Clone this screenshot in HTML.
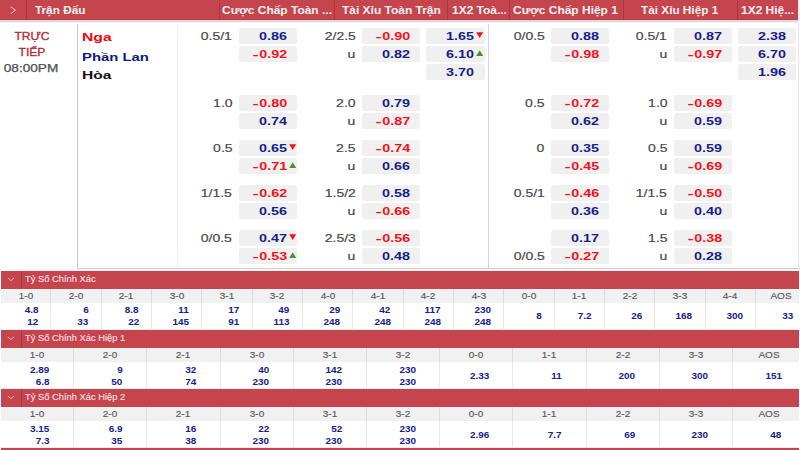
<!DOCTYPE html>
<html><head><meta charset="utf-8"><title>odds</title>
<style>
html,body{margin:0;padding:0;background:#fff;}
body{width:800px;height:450px;overflow:hidden;position:relative;font-family:"Liberation Sans",sans-serif;}
#p{position:absolute;left:0;top:0;width:800px;height:450px;overflow:hidden;background:#fff;}
#p div,#p svg,#p .t{position:absolute;}
.t{white-space:nowrap;line-height:1;}
.m{display:inline-block;font-style:normal;transform:scaleX(1.3);transform-origin:100% 50%;margin-left:1.2px;margin-right:0.2px;}
</style></head><body><div id="p">
<div style="left:0.00px;top:0.00px;width:800.00px;height:19.80px;background:#c4454d;"></div>
<div style="left:0.00px;top:18.80px;width:800.00px;height:1.00px;background:#b9404a;"></div>
<div style="left:0.00px;top:19.80px;width:800.00px;height:3.40px;background:linear-gradient(#d6d6d6,#dedede 55%,#fff);"></div>
<div style="left:25.70px;top:0.00px;width:1.00px;height:19.50px;background:#a93840;"></div>
<div style="left:219.40px;top:0.00px;width:1.00px;height:19.50px;background:#a93840;"></div>
<div style="left:333.80px;top:0.00px;width:1.00px;height:19.50px;background:#a93840;"></div>
<div style="left:447.10px;top:0.00px;width:1.00px;height:19.50px;background:#a93840;"></div>
<div style="left:509.10px;top:0.00px;width:1.00px;height:19.50px;background:#a93840;"></div>
<div style="left:623.10px;top:0.00px;width:1.00px;height:19.50px;background:#a93840;"></div>
<div style="left:736.50px;top:0.00px;width:1.00px;height:19.50px;background:#a93840;"></div>
<svg style="left:9px;top:5px" width="9" height="10" viewBox="0 0 9 10"><path d="M1.8 1.8 L6.4 5.2 L1.8 8.6" fill="none" stroke="#f3c9cc" stroke-width="1"/></svg>
<span class="t" style="top:4.81px;font-size:10.5px;font-weight:bold;color:#fdf1f2;left:35.00px;transform-origin:0 50%;transform:scaleX(1.121);">Trận Đấu</span>
<span class="t" style="top:4.81px;font-size:10.5px;font-weight:bold;color:#fdf1f2;left:221.50px;transform-origin:0 50%;transform:scaleX(1.139);">Cược Chấp Toàn ...</span>
<span class="t" style="top:4.81px;font-size:10.5px;font-weight:bold;color:#fdf1f2;left:342.40px;transform-origin:0 50%;transform:scaleX(1.139);">Tài Xỉu Toàn Trận</span>
<span class="t" style="top:4.81px;font-size:10.5px;font-weight:bold;color:#fdf1f2;left:451.60px;transform-origin:0 50%;transform:scaleX(1.139);">1X2 Toà...</span>
<span class="t" style="top:4.81px;font-size:10.5px;font-weight:bold;color:#fdf1f2;left:513.00px;transform-origin:0 50%;transform:scaleX(1.139);">Cược Chấp Hiệp 1</span>
<span class="t" style="top:4.81px;font-size:10.5px;font-weight:bold;color:#fdf1f2;left:640.60px;transform-origin:0 50%;transform:scaleX(1.121);">Tài Xỉu Hiệp 1</span>
<span class="t" style="top:4.81px;font-size:10.5px;font-weight:bold;color:#fdf1f2;left:740.70px;transform-origin:0 50%;transform:scaleX(1.139);">1X2 Hiệ...</span>
<div style="left:77.00px;top:23.50px;width:1.00px;height:245.00px;background:#c9c9c9;"></div>
<div style="left:177.00px;top:26.00px;width:1.00px;height:242.00px;background:#f0f0f0;"></div>
<div style="left:487.90px;top:23.50px;width:1.00px;height:245.00px;background:#d4d4d4;"></div>
<div style="left:77.00px;top:267.80px;width:723.00px;height:1.00px;background:#d0d0d0;"></div>
<div style="left:0.00px;top:269.00px;width:800.00px;height:1.60px;background:#f7f7f7;"></div>
<div style="left:797.90px;top:23.00px;width:1.00px;height:246.00px;background:#e4e4e4;"></div>
<div style="left:798.40px;top:0.00px;width:1.60px;height:23.00px;background:#fbeff0;"></div>
<span class="t" style="top:30.93px;font-size:10.6px;font-weight:normal;color:#b02a34;-webkit-text-stroke:0.3px #b02a34;left:31.60px;transform-origin:0 50%;transform:scaleX(1.14) translateX(-50%);">TRỰC</span>
<span class="t" style="top:46.73px;font-size:10.6px;font-weight:normal;color:#b02a34;-webkit-text-stroke:0.3px #b02a34;left:32.00px;transform-origin:0 50%;transform:scaleX(1.14) translateX(-50%);">TIẾP</span>
<span class="t" style="top:64.40px;font-size:10.4px;font-weight:normal;color:#505050;-webkit-text-stroke:0.25px #505050;left:31.30px;transform-origin:0 50%;transform:scaleX(1.31) translateX(-50%);">08:00PM</span>
<span class="t" style="top:31.00px;font-size:11.7px;font-weight:bold;color:#f8000a;left:81.80px;transform-origin:0 50%;transform:scaleX(1.34);">Nga</span>
<span class="t" style="top:50.50px;font-size:11.7px;font-weight:bold;color:#0e1a86;left:81.80px;transform-origin:0 50%;transform:scaleX(1.27);">Phần Lan</span>
<span class="t" style="top:69.10px;font-size:11.7px;font-weight:bold;color:#111;left:81.80px;transform-origin:0 50%;transform:scaleX(1.33);">Hòa</span>
<div style="left:239.00px;top:28.00px;width:58.30px;height:15.50px;background:#f0f0f0;border-radius:2.5px;"></div>
<span class="t" style="top:31.13px;font-size:11.3px;font-weight:bold;color:#141e8c;right:513.30px;transform-origin:100% 50%;transform:scaleX(1.27);">0.86</span>
<span class="t" style="top:31.12px;font-size:11.2px;font-weight:normal;color:#4a4a4a;-webkit-text-stroke:0.2px #4a4a4a;right:567.80px;transform-origin:100% 50%;transform:scaleX(1.25);">0.5/1</span>
<div style="left:239.00px;top:46.20px;width:58.30px;height:15.50px;background:#f0f0f0;border-radius:2.5px;"></div>
<span class="t" style="top:49.33px;font-size:11.3px;font-weight:bold;color:#f5101a;right:513.30px;transform-origin:100% 50%;transform:scaleX(1.27);"><i class="m">-</i>0.92</span>
<div style="left:362.00px;top:28.00px;width:58.30px;height:15.50px;background:#f0f0f0;border-radius:2.5px;"></div>
<span class="t" style="top:31.13px;font-size:11.3px;font-weight:bold;color:#f5101a;right:390.30px;transform-origin:100% 50%;transform:scaleX(1.27);"><i class="m">-</i>0.90</span>
<span class="t" style="top:31.12px;font-size:11.2px;font-weight:normal;color:#4a4a4a;-webkit-text-stroke:0.2px #4a4a4a;right:444.30px;transform-origin:100% 50%;transform:scaleX(1.25);">2/2.5</span>
<div style="left:362.00px;top:46.20px;width:58.30px;height:15.50px;background:#f0f0f0;border-radius:2.5px;"></div>
<span class="t" style="top:49.33px;font-size:11.3px;font-weight:bold;color:#141e8c;right:390.30px;transform-origin:100% 50%;transform:scaleX(1.27);">0.82</span>
<span class="t" style="top:49.32px;font-size:11.2px;font-weight:normal;color:#4a4a4a;-webkit-text-stroke:0.2px #4a4a4a;right:444.30px;transform-origin:100% 50%;transform:scaleX(1.25);">u</span>
<div style="left:426.20px;top:28.00px;width:58.80px;height:15.50px;background:#f0f0f0;border-radius:2.5px;"></div>
<span class="t" style="top:31.13px;font-size:11.3px;font-weight:bold;color:#141e8c;right:326.10px;transform-origin:100% 50%;transform:scaleX(1.27);">1.65</span>
<svg style="left:475.80px;top:32.00px" width="8" height="7" viewBox="0 0 8 7"><path d="M0.2 0.2 L7.2 0.2 L3.7 6 Z" fill="#f0141e"/></svg>
<div style="left:426.20px;top:46.20px;width:58.80px;height:15.50px;background:#f0f0f0;border-radius:2.5px;"></div>
<span class="t" style="top:49.33px;font-size:11.3px;font-weight:bold;color:#141e8c;right:326.10px;transform-origin:100% 50%;transform:scaleX(1.27);">6.10</span>
<svg style="left:475.80px;top:50.40px" width="8" height="7" viewBox="0 0 8 7"><path d="M0.2 6 L7.2 6 L3.7 0.3 Z" fill="#3f9a1f"/></svg>
<div style="left:426.20px;top:64.30px;width:58.80px;height:15.50px;background:#f0f0f0;border-radius:2.5px;"></div>
<span class="t" style="top:67.43px;font-size:11.3px;font-weight:bold;color:#141e8c;right:326.10px;transform-origin:100% 50%;transform:scaleX(1.27);">3.70</span>
<div style="left:551.00px;top:28.00px;width:58.30px;height:15.50px;background:#f0f0f0;border-radius:2.5px;"></div>
<span class="t" style="top:31.13px;font-size:11.3px;font-weight:bold;color:#141e8c;right:201.30px;transform-origin:100% 50%;transform:scaleX(1.27);">0.88</span>
<span class="t" style="top:31.12px;font-size:11.2px;font-weight:normal;color:#4a4a4a;-webkit-text-stroke:0.2px #4a4a4a;right:255.30px;transform-origin:100% 50%;transform:scaleX(1.25);">0/0.5</span>
<div style="left:551.00px;top:46.20px;width:58.30px;height:15.50px;background:#f0f0f0;border-radius:2.5px;"></div>
<span class="t" style="top:49.33px;font-size:11.3px;font-weight:bold;color:#f5101a;right:201.30px;transform-origin:100% 50%;transform:scaleX(1.27);"><i class="m">-</i>0.98</span>
<div style="left:674.00px;top:28.00px;width:58.30px;height:15.50px;background:#f0f0f0;border-radius:2.5px;"></div>
<span class="t" style="top:31.13px;font-size:11.3px;font-weight:bold;color:#141e8c;right:78.30px;transform-origin:100% 50%;transform:scaleX(1.27);">0.87</span>
<span class="t" style="top:31.12px;font-size:11.2px;font-weight:normal;color:#4a4a4a;-webkit-text-stroke:0.2px #4a4a4a;right:132.80px;transform-origin:100% 50%;transform:scaleX(1.25);">0.5/1</span>
<div style="left:674.00px;top:46.20px;width:58.30px;height:15.50px;background:#f0f0f0;border-radius:2.5px;"></div>
<span class="t" style="top:49.33px;font-size:11.3px;font-weight:bold;color:#f5101a;right:78.30px;transform-origin:100% 50%;transform:scaleX(1.27);"><i class="m">-</i>0.97</span>
<span class="t" style="top:49.32px;font-size:11.2px;font-weight:normal;color:#4a4a4a;-webkit-text-stroke:0.2px #4a4a4a;right:132.80px;transform-origin:100% 50%;transform:scaleX(1.25);">u</span>
<div style="left:738.00px;top:28.00px;width:58.30px;height:15.50px;background:#f0f0f0;border-radius:2.5px;"></div>
<span class="t" style="top:31.13px;font-size:11.3px;font-weight:bold;color:#141e8c;right:14.30px;transform-origin:100% 50%;transform:scaleX(1.27);">2.38</span>
<div style="left:738.00px;top:46.20px;width:58.30px;height:15.50px;background:#f0f0f0;border-radius:2.5px;"></div>
<span class="t" style="top:49.33px;font-size:11.3px;font-weight:bold;color:#141e8c;right:14.30px;transform-origin:100% 50%;transform:scaleX(1.27);">6.70</span>
<div style="left:738.00px;top:64.30px;width:58.30px;height:15.50px;background:#f0f0f0;border-radius:2.5px;"></div>
<span class="t" style="top:67.43px;font-size:11.3px;font-weight:bold;color:#141e8c;right:14.30px;transform-origin:100% 50%;transform:scaleX(1.27);">1.96</span>
<div style="left:239.00px;top:95.00px;width:58.30px;height:15.50px;background:#f0f0f0;border-radius:2.5px;"></div>
<span class="t" style="top:98.13px;font-size:11.3px;font-weight:bold;color:#f5101a;right:513.30px;transform-origin:100% 50%;transform:scaleX(1.27);"><i class="m">-</i>0.80</span>
<span class="t" style="top:98.12px;font-size:11.2px;font-weight:normal;color:#4a4a4a;-webkit-text-stroke:0.2px #4a4a4a;right:567.80px;transform-origin:100% 50%;transform:scaleX(1.25);">1.0</span>
<div style="left:239.00px;top:113.00px;width:58.30px;height:15.50px;background:#f0f0f0;border-radius:2.5px;"></div>
<span class="t" style="top:116.13px;font-size:11.3px;font-weight:bold;color:#141e8c;right:513.30px;transform-origin:100% 50%;transform:scaleX(1.27);">0.74</span>
<div style="left:362.00px;top:95.00px;width:58.30px;height:15.50px;background:#f0f0f0;border-radius:2.5px;"></div>
<span class="t" style="top:98.13px;font-size:11.3px;font-weight:bold;color:#141e8c;right:390.30px;transform-origin:100% 50%;transform:scaleX(1.27);">0.79</span>
<span class="t" style="top:98.12px;font-size:11.2px;font-weight:normal;color:#4a4a4a;-webkit-text-stroke:0.2px #4a4a4a;right:444.30px;transform-origin:100% 50%;transform:scaleX(1.25);">2.0</span>
<div style="left:362.00px;top:113.00px;width:58.30px;height:15.50px;background:#f0f0f0;border-radius:2.5px;"></div>
<span class="t" style="top:116.13px;font-size:11.3px;font-weight:bold;color:#f5101a;right:390.30px;transform-origin:100% 50%;transform:scaleX(1.27);"><i class="m">-</i>0.87</span>
<span class="t" style="top:116.12px;font-size:11.2px;font-weight:normal;color:#4a4a4a;-webkit-text-stroke:0.2px #4a4a4a;right:444.30px;transform-origin:100% 50%;transform:scaleX(1.25);">u</span>
<div style="left:551.00px;top:95.00px;width:58.30px;height:15.50px;background:#f0f0f0;border-radius:2.5px;"></div>
<span class="t" style="top:98.13px;font-size:11.3px;font-weight:bold;color:#f5101a;right:201.30px;transform-origin:100% 50%;transform:scaleX(1.27);"><i class="m">-</i>0.72</span>
<span class="t" style="top:98.12px;font-size:11.2px;font-weight:normal;color:#4a4a4a;-webkit-text-stroke:0.2px #4a4a4a;right:255.30px;transform-origin:100% 50%;transform:scaleX(1.25);">0.5</span>
<div style="left:551.00px;top:113.00px;width:58.30px;height:15.50px;background:#f0f0f0;border-radius:2.5px;"></div>
<span class="t" style="top:116.13px;font-size:11.3px;font-weight:bold;color:#141e8c;right:201.30px;transform-origin:100% 50%;transform:scaleX(1.27);">0.62</span>
<div style="left:674.00px;top:95.00px;width:58.30px;height:15.50px;background:#f0f0f0;border-radius:2.5px;"></div>
<span class="t" style="top:98.13px;font-size:11.3px;font-weight:bold;color:#f5101a;right:78.30px;transform-origin:100% 50%;transform:scaleX(1.27);"><i class="m">-</i>0.69</span>
<span class="t" style="top:98.12px;font-size:11.2px;font-weight:normal;color:#4a4a4a;-webkit-text-stroke:0.2px #4a4a4a;right:132.80px;transform-origin:100% 50%;transform:scaleX(1.25);">1.0</span>
<div style="left:674.00px;top:113.00px;width:58.30px;height:15.50px;background:#f0f0f0;border-radius:2.5px;"></div>
<span class="t" style="top:116.13px;font-size:11.3px;font-weight:bold;color:#141e8c;right:78.30px;transform-origin:100% 50%;transform:scaleX(1.27);">0.59</span>
<span class="t" style="top:116.12px;font-size:11.2px;font-weight:normal;color:#4a4a4a;-webkit-text-stroke:0.2px #4a4a4a;right:132.80px;transform-origin:100% 50%;transform:scaleX(1.25);">u</span>
<div style="left:239.00px;top:140.00px;width:58.30px;height:15.50px;background:#f0f0f0;border-radius:2.5px;"></div>
<span class="t" style="top:143.13px;font-size:11.3px;font-weight:bold;color:#141e8c;right:513.30px;transform-origin:100% 50%;transform:scaleX(1.27);">0.65</span>
<svg style="left:288.60px;top:144.00px" width="8" height="7" viewBox="0 0 8 7"><path d="M0.2 0.2 L7.2 0.2 L3.7 6 Z" fill="#f0141e"/></svg>
<span class="t" style="top:143.12px;font-size:11.2px;font-weight:normal;color:#4a4a4a;-webkit-text-stroke:0.2px #4a4a4a;right:567.80px;transform-origin:100% 50%;transform:scaleX(1.25);">0.5</span>
<div style="left:239.00px;top:158.10px;width:58.30px;height:15.50px;background:#f0f0f0;border-radius:2.5px;"></div>
<span class="t" style="top:161.23px;font-size:11.3px;font-weight:bold;color:#f5101a;right:513.30px;transform-origin:100% 50%;transform:scaleX(1.27);"><i class="m">-</i>0.71</span>
<svg style="left:288.60px;top:162.30px" width="8" height="7" viewBox="0 0 8 7"><path d="M0.2 6 L7.2 6 L3.7 0.3 Z" fill="#3f9a1f"/></svg>
<div style="left:362.00px;top:140.00px;width:58.30px;height:15.50px;background:#f0f0f0;border-radius:2.5px;"></div>
<span class="t" style="top:143.13px;font-size:11.3px;font-weight:bold;color:#f5101a;right:390.30px;transform-origin:100% 50%;transform:scaleX(1.27);"><i class="m">-</i>0.74</span>
<span class="t" style="top:143.12px;font-size:11.2px;font-weight:normal;color:#4a4a4a;-webkit-text-stroke:0.2px #4a4a4a;right:444.30px;transform-origin:100% 50%;transform:scaleX(1.25);">2.5</span>
<div style="left:362.00px;top:158.10px;width:58.30px;height:15.50px;background:#f0f0f0;border-radius:2.5px;"></div>
<span class="t" style="top:161.23px;font-size:11.3px;font-weight:bold;color:#141e8c;right:390.30px;transform-origin:100% 50%;transform:scaleX(1.27);">0.66</span>
<span class="t" style="top:161.22px;font-size:11.2px;font-weight:normal;color:#4a4a4a;-webkit-text-stroke:0.2px #4a4a4a;right:444.30px;transform-origin:100% 50%;transform:scaleX(1.25);">u</span>
<div style="left:551.00px;top:140.00px;width:58.30px;height:15.50px;background:#f0f0f0;border-radius:2.5px;"></div>
<span class="t" style="top:143.13px;font-size:11.3px;font-weight:bold;color:#141e8c;right:201.30px;transform-origin:100% 50%;transform:scaleX(1.27);">0.35</span>
<span class="t" style="top:143.12px;font-size:11.2px;font-weight:normal;color:#4a4a4a;-webkit-text-stroke:0.2px #4a4a4a;right:255.30px;transform-origin:100% 50%;transform:scaleX(1.25);">0</span>
<div style="left:551.00px;top:158.10px;width:58.30px;height:15.50px;background:#f0f0f0;border-radius:2.5px;"></div>
<span class="t" style="top:161.23px;font-size:11.3px;font-weight:bold;color:#f5101a;right:201.30px;transform-origin:100% 50%;transform:scaleX(1.27);"><i class="m">-</i>0.45</span>
<div style="left:674.00px;top:140.00px;width:58.30px;height:15.50px;background:#f0f0f0;border-radius:2.5px;"></div>
<span class="t" style="top:143.13px;font-size:11.3px;font-weight:bold;color:#141e8c;right:78.30px;transform-origin:100% 50%;transform:scaleX(1.27);">0.59</span>
<span class="t" style="top:143.12px;font-size:11.2px;font-weight:normal;color:#4a4a4a;-webkit-text-stroke:0.2px #4a4a4a;right:132.80px;transform-origin:100% 50%;transform:scaleX(1.25);">0.5</span>
<div style="left:674.00px;top:158.10px;width:58.30px;height:15.50px;background:#f0f0f0;border-radius:2.5px;"></div>
<span class="t" style="top:161.23px;font-size:11.3px;font-weight:bold;color:#f5101a;right:78.30px;transform-origin:100% 50%;transform:scaleX(1.27);"><i class="m">-</i>0.69</span>
<span class="t" style="top:161.22px;font-size:11.2px;font-weight:normal;color:#4a4a4a;-webkit-text-stroke:0.2px #4a4a4a;right:132.80px;transform-origin:100% 50%;transform:scaleX(1.25);">u</span>
<div style="left:239.00px;top:185.00px;width:58.30px;height:15.50px;background:#f0f0f0;border-radius:2.5px;"></div>
<span class="t" style="top:188.13px;font-size:11.3px;font-weight:bold;color:#f5101a;right:513.30px;transform-origin:100% 50%;transform:scaleX(1.27);"><i class="m">-</i>0.62</span>
<span class="t" style="top:188.12px;font-size:11.2px;font-weight:normal;color:#4a4a4a;-webkit-text-stroke:0.2px #4a4a4a;right:567.80px;transform-origin:100% 50%;transform:scaleX(1.25);">1/1.5</span>
<div style="left:239.00px;top:203.00px;width:58.30px;height:15.50px;background:#f0f0f0;border-radius:2.5px;"></div>
<span class="t" style="top:206.13px;font-size:11.3px;font-weight:bold;color:#141e8c;right:513.30px;transform-origin:100% 50%;transform:scaleX(1.27);">0.56</span>
<div style="left:362.00px;top:185.00px;width:58.30px;height:15.50px;background:#f0f0f0;border-radius:2.5px;"></div>
<span class="t" style="top:188.13px;font-size:11.3px;font-weight:bold;color:#141e8c;right:390.30px;transform-origin:100% 50%;transform:scaleX(1.27);">0.58</span>
<span class="t" style="top:188.12px;font-size:11.2px;font-weight:normal;color:#4a4a4a;-webkit-text-stroke:0.2px #4a4a4a;right:444.30px;transform-origin:100% 50%;transform:scaleX(1.25);">1.5/2</span>
<div style="left:362.00px;top:203.00px;width:58.30px;height:15.50px;background:#f0f0f0;border-radius:2.5px;"></div>
<span class="t" style="top:206.13px;font-size:11.3px;font-weight:bold;color:#f5101a;right:390.30px;transform-origin:100% 50%;transform:scaleX(1.27);"><i class="m">-</i>0.66</span>
<span class="t" style="top:206.12px;font-size:11.2px;font-weight:normal;color:#4a4a4a;-webkit-text-stroke:0.2px #4a4a4a;right:444.30px;transform-origin:100% 50%;transform:scaleX(1.25);">u</span>
<div style="left:551.00px;top:185.00px;width:58.30px;height:15.50px;background:#f0f0f0;border-radius:2.5px;"></div>
<span class="t" style="top:188.13px;font-size:11.3px;font-weight:bold;color:#f5101a;right:201.30px;transform-origin:100% 50%;transform:scaleX(1.27);"><i class="m">-</i>0.46</span>
<span class="t" style="top:188.12px;font-size:11.2px;font-weight:normal;color:#4a4a4a;-webkit-text-stroke:0.2px #4a4a4a;right:255.30px;transform-origin:100% 50%;transform:scaleX(1.25);">0.5/1</span>
<div style="left:551.00px;top:203.00px;width:58.30px;height:15.50px;background:#f0f0f0;border-radius:2.5px;"></div>
<span class="t" style="top:206.13px;font-size:11.3px;font-weight:bold;color:#141e8c;right:201.30px;transform-origin:100% 50%;transform:scaleX(1.27);">0.36</span>
<div style="left:674.00px;top:185.00px;width:58.30px;height:15.50px;background:#f0f0f0;border-radius:2.5px;"></div>
<span class="t" style="top:188.13px;font-size:11.3px;font-weight:bold;color:#f5101a;right:78.30px;transform-origin:100% 50%;transform:scaleX(1.27);"><i class="m">-</i>0.50</span>
<span class="t" style="top:188.12px;font-size:11.2px;font-weight:normal;color:#4a4a4a;-webkit-text-stroke:0.2px #4a4a4a;right:132.80px;transform-origin:100% 50%;transform:scaleX(1.25);">1/1.5</span>
<div style="left:674.00px;top:203.00px;width:58.30px;height:15.50px;background:#f0f0f0;border-radius:2.5px;"></div>
<span class="t" style="top:206.13px;font-size:11.3px;font-weight:bold;color:#141e8c;right:78.30px;transform-origin:100% 50%;transform:scaleX(1.27);">0.40</span>
<span class="t" style="top:206.12px;font-size:11.2px;font-weight:normal;color:#4a4a4a;-webkit-text-stroke:0.2px #4a4a4a;right:132.80px;transform-origin:100% 50%;transform:scaleX(1.25);">u</span>
<div style="left:239.00px;top:230.00px;width:58.30px;height:15.50px;background:#f0f0f0;border-radius:2.5px;"></div>
<span class="t" style="top:233.13px;font-size:11.3px;font-weight:bold;color:#141e8c;right:513.30px;transform-origin:100% 50%;transform:scaleX(1.27);">0.47</span>
<svg style="left:288.60px;top:234.00px" width="8" height="7" viewBox="0 0 8 7"><path d="M0.2 0.2 L7.2 0.2 L3.7 6 Z" fill="#f0141e"/></svg>
<span class="t" style="top:233.12px;font-size:11.2px;font-weight:normal;color:#4a4a4a;-webkit-text-stroke:0.2px #4a4a4a;right:567.80px;transform-origin:100% 50%;transform:scaleX(1.25);">0/0.5</span>
<div style="left:239.00px;top:248.10px;width:58.30px;height:15.50px;background:#f0f0f0;border-radius:2.5px;"></div>
<span class="t" style="top:251.23px;font-size:11.3px;font-weight:bold;color:#f5101a;right:513.30px;transform-origin:100% 50%;transform:scaleX(1.27);"><i class="m">-</i>0.53</span>
<svg style="left:288.60px;top:252.30px" width="8" height="7" viewBox="0 0 8 7"><path d="M0.2 6 L7.2 6 L3.7 0.3 Z" fill="#3f9a1f"/></svg>
<div style="left:362.00px;top:230.00px;width:58.30px;height:15.50px;background:#f0f0f0;border-radius:2.5px;"></div>
<span class="t" style="top:233.13px;font-size:11.3px;font-weight:bold;color:#f5101a;right:390.30px;transform-origin:100% 50%;transform:scaleX(1.27);"><i class="m">-</i>0.56</span>
<span class="t" style="top:233.12px;font-size:11.2px;font-weight:normal;color:#4a4a4a;-webkit-text-stroke:0.2px #4a4a4a;right:444.30px;transform-origin:100% 50%;transform:scaleX(1.25);">2.5/3</span>
<div style="left:362.00px;top:248.10px;width:58.30px;height:15.50px;background:#f0f0f0;border-radius:2.5px;"></div>
<span class="t" style="top:251.23px;font-size:11.3px;font-weight:bold;color:#141e8c;right:390.30px;transform-origin:100% 50%;transform:scaleX(1.27);">0.48</span>
<span class="t" style="top:251.22px;font-size:11.2px;font-weight:normal;color:#4a4a4a;-webkit-text-stroke:0.2px #4a4a4a;right:444.30px;transform-origin:100% 50%;transform:scaleX(1.25);">u</span>
<div style="left:551.00px;top:230.00px;width:58.30px;height:15.50px;background:#f0f0f0;border-radius:2.5px;"></div>
<span class="t" style="top:233.13px;font-size:11.3px;font-weight:bold;color:#141e8c;right:201.30px;transform-origin:100% 50%;transform:scaleX(1.27);">0.17</span>
<div style="left:551.00px;top:248.10px;width:58.30px;height:15.50px;background:#f0f0f0;border-radius:2.5px;"></div>
<span class="t" style="top:251.23px;font-size:11.3px;font-weight:bold;color:#f5101a;right:201.30px;transform-origin:100% 50%;transform:scaleX(1.27);"><i class="m">-</i>0.27</span>
<span class="t" style="top:251.22px;font-size:11.2px;font-weight:normal;color:#4a4a4a;-webkit-text-stroke:0.2px #4a4a4a;right:255.30px;transform-origin:100% 50%;transform:scaleX(1.25);">0/0.5</span>
<div style="left:674.00px;top:230.00px;width:58.30px;height:15.50px;background:#f0f0f0;border-radius:2.5px;"></div>
<span class="t" style="top:233.13px;font-size:11.3px;font-weight:bold;color:#f5101a;right:78.30px;transform-origin:100% 50%;transform:scaleX(1.27);"><i class="m">-</i>0.38</span>
<span class="t" style="top:233.12px;font-size:11.2px;font-weight:normal;color:#4a4a4a;-webkit-text-stroke:0.2px #4a4a4a;right:132.80px;transform-origin:100% 50%;transform:scaleX(1.25);">1.5</span>
<div style="left:674.00px;top:248.10px;width:58.30px;height:15.50px;background:#f0f0f0;border-radius:2.5px;"></div>
<span class="t" style="top:251.23px;font-size:11.3px;font-weight:bold;color:#141e8c;right:78.30px;transform-origin:100% 50%;transform:scaleX(1.27);">0.28</span>
<span class="t" style="top:251.22px;font-size:11.2px;font-weight:normal;color:#4a4a4a;-webkit-text-stroke:0.2px #4a4a4a;right:132.80px;transform-origin:100% 50%;transform:scaleX(1.25);">u</span>
<div style="left:0.80px;top:271.10px;width:797.80px;height:17.50px;background:#c4454d;"></div>
<div style="left:20.80px;top:271.10px;width:1.00px;height:17.50px;background:#a93840;"></div>
<svg style="left:6.7px;top:277.30px" width="8" height="5" viewBox="0 0 8 5"><path d="M0.8 0.8 L3.9 3.6 L7 0.8" fill="none" stroke="#f1c4c8" stroke-width="0.9"/></svg>
<span class="t" style="top:274.54px;font-size:8.4px;font-weight:normal;color:#f8dfe1;-webkit-text-stroke:0.15px #f8dfe1;left:24.60px;transform-origin:0 50%;transform:scaleX(1.115);">Tỷ Số Chính Xác</span>
<div style="left:0.80px;top:288.60px;width:797.80px;height:14.00px;background:#f1f1f1;"></div>
<div style="left:0.00px;top:302.60px;width:799.00px;height:26.40px;background:#fff;"></div>
<div style="left:0.00px;top:329.00px;width:799.00px;height:1.00px;background:#ececec;"></div>
<span class="t" style="top:291.69px;font-size:8.4px;font-weight:normal;color:#5a5a5a;-webkit-text-stroke:0.15px #5a5a5a;left:25.56px;transform-origin:0 50%;transform:scaleX(1.19) translateX(-50%);">1-0</span>
<span class="t" style="top:306.49px;font-size:8.4px;font-weight:bold;color:#14228f;right:761.84px;transform-origin:100% 50%;transform:scaleX(1.185);">4.8</span>
<span class="t" style="top:318.49px;font-size:8.4px;font-weight:bold;color:#14228f;right:761.84px;transform-origin:100% 50%;transform:scaleX(1.185);">12</span>
<div style="left:50.33px;top:288.60px;width:1.00px;height:14.00px;background:#dcdcdc;"></div>
<div style="left:50.33px;top:302.60px;width:1.00px;height:26.40px;background:#eaeaea;"></div>
<span class="t" style="top:291.69px;font-size:8.4px;font-weight:normal;color:#5a5a5a;-webkit-text-stroke:0.15px #5a5a5a;left:75.90px;transform-origin:0 50%;transform:scaleX(1.19) translateX(-50%);">2-0</span>
<span class="t" style="top:306.49px;font-size:8.4px;font-weight:bold;color:#14228f;right:711.50px;transform-origin:100% 50%;transform:scaleX(1.185);">6</span>
<span class="t" style="top:318.49px;font-size:8.4px;font-weight:bold;color:#14228f;right:711.50px;transform-origin:100% 50%;transform:scaleX(1.185);">33</span>
<div style="left:100.66px;top:288.60px;width:1.00px;height:14.00px;background:#dcdcdc;"></div>
<div style="left:100.66px;top:302.60px;width:1.00px;height:26.40px;background:#eaeaea;"></div>
<span class="t" style="top:291.69px;font-size:8.4px;font-weight:normal;color:#5a5a5a;-webkit-text-stroke:0.15px #5a5a5a;left:126.22px;transform-origin:0 50%;transform:scaleX(1.19) translateX(-50%);">2-1</span>
<span class="t" style="top:306.49px;font-size:8.4px;font-weight:bold;color:#14228f;right:661.17px;transform-origin:100% 50%;transform:scaleX(1.185);">8.8</span>
<span class="t" style="top:318.49px;font-size:8.4px;font-weight:bold;color:#14228f;right:661.17px;transform-origin:100% 50%;transform:scaleX(1.185);">22</span>
<div style="left:150.99px;top:288.60px;width:1.00px;height:14.00px;background:#dcdcdc;"></div>
<div style="left:150.99px;top:302.60px;width:1.00px;height:26.40px;background:#eaeaea;"></div>
<span class="t" style="top:291.69px;font-size:8.4px;font-weight:normal;color:#5a5a5a;-webkit-text-stroke:0.15px #5a5a5a;left:176.56px;transform-origin:0 50%;transform:scaleX(1.19) translateX(-50%);">3-0</span>
<span class="t" style="top:306.49px;font-size:8.4px;font-weight:bold;color:#14228f;right:610.85px;transform-origin:100% 50%;transform:scaleX(1.185);">11</span>
<span class="t" style="top:318.49px;font-size:8.4px;font-weight:bold;color:#14228f;right:610.85px;transform-origin:100% 50%;transform:scaleX(1.185);">145</span>
<div style="left:201.32px;top:288.60px;width:1.00px;height:14.00px;background:#dcdcdc;"></div>
<div style="left:201.32px;top:302.60px;width:1.00px;height:26.40px;background:#eaeaea;"></div>
<span class="t" style="top:291.69px;font-size:8.4px;font-weight:normal;color:#5a5a5a;-webkit-text-stroke:0.15px #5a5a5a;left:226.88px;transform-origin:0 50%;transform:scaleX(1.19) translateX(-50%);">3-1</span>
<span class="t" style="top:306.49px;font-size:8.4px;font-weight:bold;color:#14228f;right:560.51px;transform-origin:100% 50%;transform:scaleX(1.185);">17</span>
<span class="t" style="top:318.49px;font-size:8.4px;font-weight:bold;color:#14228f;right:560.51px;transform-origin:100% 50%;transform:scaleX(1.185);">91</span>
<div style="left:251.65px;top:288.60px;width:1.00px;height:14.00px;background:#dcdcdc;"></div>
<div style="left:251.65px;top:302.60px;width:1.00px;height:26.40px;background:#eaeaea;"></div>
<span class="t" style="top:291.69px;font-size:8.4px;font-weight:normal;color:#5a5a5a;-webkit-text-stroke:0.15px #5a5a5a;left:277.21px;transform-origin:0 50%;transform:scaleX(1.19) translateX(-50%);">3-2</span>
<span class="t" style="top:306.49px;font-size:8.4px;font-weight:bold;color:#14228f;right:510.19px;transform-origin:100% 50%;transform:scaleX(1.185);">49</span>
<span class="t" style="top:318.49px;font-size:8.4px;font-weight:bold;color:#14228f;right:510.19px;transform-origin:100% 50%;transform:scaleX(1.185);">113</span>
<div style="left:301.98px;top:288.60px;width:1.00px;height:14.00px;background:#dcdcdc;"></div>
<div style="left:301.98px;top:302.60px;width:1.00px;height:26.40px;background:#eaeaea;"></div>
<span class="t" style="top:291.69px;font-size:8.4px;font-weight:normal;color:#5a5a5a;-webkit-text-stroke:0.15px #5a5a5a;left:327.55px;transform-origin:0 50%;transform:scaleX(1.19) translateX(-50%);">4-0</span>
<span class="t" style="top:306.49px;font-size:8.4px;font-weight:bold;color:#14228f;right:459.85px;transform-origin:100% 50%;transform:scaleX(1.185);">29</span>
<span class="t" style="top:318.49px;font-size:8.4px;font-weight:bold;color:#14228f;right:459.85px;transform-origin:100% 50%;transform:scaleX(1.185);">248</span>
<div style="left:352.31px;top:288.60px;width:1.00px;height:14.00px;background:#dcdcdc;"></div>
<div style="left:352.31px;top:302.60px;width:1.00px;height:26.40px;background:#eaeaea;"></div>
<span class="t" style="top:291.69px;font-size:8.4px;font-weight:normal;color:#5a5a5a;-webkit-text-stroke:0.15px #5a5a5a;left:377.88px;transform-origin:0 50%;transform:scaleX(1.19) translateX(-50%);">4-1</span>
<span class="t" style="top:306.49px;font-size:8.4px;font-weight:bold;color:#14228f;right:409.52px;transform-origin:100% 50%;transform:scaleX(1.185);">42</span>
<span class="t" style="top:318.49px;font-size:8.4px;font-weight:bold;color:#14228f;right:409.52px;transform-origin:100% 50%;transform:scaleX(1.185);">248</span>
<div style="left:402.64px;top:288.60px;width:1.00px;height:14.00px;background:#dcdcdc;"></div>
<div style="left:402.64px;top:302.60px;width:1.00px;height:26.40px;background:#eaeaea;"></div>
<span class="t" style="top:291.69px;font-size:8.4px;font-weight:normal;color:#5a5a5a;-webkit-text-stroke:0.15px #5a5a5a;left:428.20px;transform-origin:0 50%;transform:scaleX(1.19) translateX(-50%);">4-2</span>
<span class="t" style="top:306.49px;font-size:8.4px;font-weight:bold;color:#14228f;right:359.19px;transform-origin:100% 50%;transform:scaleX(1.185);">117</span>
<span class="t" style="top:318.49px;font-size:8.4px;font-weight:bold;color:#14228f;right:359.19px;transform-origin:100% 50%;transform:scaleX(1.185);">248</span>
<div style="left:452.97px;top:288.60px;width:1.00px;height:14.00px;background:#dcdcdc;"></div>
<div style="left:452.97px;top:302.60px;width:1.00px;height:26.40px;background:#eaeaea;"></div>
<span class="t" style="top:291.69px;font-size:8.4px;font-weight:normal;color:#5a5a5a;-webkit-text-stroke:0.15px #5a5a5a;left:478.53px;transform-origin:0 50%;transform:scaleX(1.19) translateX(-50%);">4-3</span>
<span class="t" style="top:306.49px;font-size:8.4px;font-weight:bold;color:#14228f;right:308.87px;transform-origin:100% 50%;transform:scaleX(1.185);">230</span>
<span class="t" style="top:318.49px;font-size:8.4px;font-weight:bold;color:#14228f;right:308.87px;transform-origin:100% 50%;transform:scaleX(1.185);">248</span>
<div style="left:503.30px;top:288.60px;width:1.00px;height:14.00px;background:#dcdcdc;"></div>
<div style="left:503.30px;top:302.60px;width:1.00px;height:26.40px;background:#eaeaea;"></div>
<span class="t" style="top:291.69px;font-size:8.4px;font-weight:normal;color:#5a5a5a;-webkit-text-stroke:0.15px #5a5a5a;left:528.86px;transform-origin:0 50%;transform:scaleX(1.19) translateX(-50%);">0-0</span>
<span class="t" style="top:312.49px;font-size:8.4px;font-weight:bold;color:#14228f;right:258.54px;transform-origin:100% 50%;transform:scaleX(1.185);">8</span>
<div style="left:553.63px;top:288.60px;width:1.00px;height:14.00px;background:#dcdcdc;"></div>
<div style="left:553.63px;top:302.60px;width:1.00px;height:26.40px;background:#eaeaea;"></div>
<span class="t" style="top:291.69px;font-size:8.4px;font-weight:normal;color:#5a5a5a;-webkit-text-stroke:0.15px #5a5a5a;left:579.19px;transform-origin:0 50%;transform:scaleX(1.19) translateX(-50%);">1-1</span>
<span class="t" style="top:312.49px;font-size:8.4px;font-weight:bold;color:#14228f;right:208.21px;transform-origin:100% 50%;transform:scaleX(1.185);">7.2</span>
<div style="left:603.96px;top:288.60px;width:1.00px;height:14.00px;background:#dcdcdc;"></div>
<div style="left:603.96px;top:302.60px;width:1.00px;height:26.40px;background:#eaeaea;"></div>
<span class="t" style="top:291.69px;font-size:8.4px;font-weight:normal;color:#5a5a5a;-webkit-text-stroke:0.15px #5a5a5a;left:629.52px;transform-origin:0 50%;transform:scaleX(1.19) translateX(-50%);">2-2</span>
<span class="t" style="top:312.49px;font-size:8.4px;font-weight:bold;color:#14228f;right:157.88px;transform-origin:100% 50%;transform:scaleX(1.185);">26</span>
<div style="left:654.29px;top:288.60px;width:1.00px;height:14.00px;background:#dcdcdc;"></div>
<div style="left:654.29px;top:302.60px;width:1.00px;height:26.40px;background:#eaeaea;"></div>
<span class="t" style="top:291.69px;font-size:8.4px;font-weight:normal;color:#5a5a5a;-webkit-text-stroke:0.15px #5a5a5a;left:679.85px;transform-origin:0 50%;transform:scaleX(1.19) translateX(-50%);">3-3</span>
<span class="t" style="top:312.49px;font-size:8.4px;font-weight:bold;color:#14228f;right:107.55px;transform-origin:100% 50%;transform:scaleX(1.185);">168</span>
<div style="left:704.62px;top:288.60px;width:1.00px;height:14.00px;background:#dcdcdc;"></div>
<div style="left:704.62px;top:302.60px;width:1.00px;height:26.40px;background:#eaeaea;"></div>
<span class="t" style="top:291.69px;font-size:8.4px;font-weight:normal;color:#5a5a5a;-webkit-text-stroke:0.15px #5a5a5a;left:730.18px;transform-origin:0 50%;transform:scaleX(1.19) translateX(-50%);">4-4</span>
<span class="t" style="top:312.49px;font-size:8.4px;font-weight:bold;color:#14228f;right:57.22px;transform-origin:100% 50%;transform:scaleX(1.185);">300</span>
<div style="left:754.95px;top:288.60px;width:1.00px;height:14.00px;background:#dcdcdc;"></div>
<div style="left:754.95px;top:302.60px;width:1.00px;height:26.40px;background:#eaeaea;"></div>
<span class="t" style="top:291.69px;font-size:8.4px;font-weight:normal;color:#5a5a5a;-webkit-text-stroke:0.15px #5a5a5a;left:780.51px;transform-origin:0 50%;transform:scaleX(1.19) translateX(-50%);">AOS</span>
<span class="t" style="top:312.49px;font-size:8.4px;font-weight:bold;color:#14228f;right:6.89px;transform-origin:100% 50%;transform:scaleX(1.185);">33</span>
<div style="left:0.80px;top:330.10px;width:797.80px;height:17.50px;background:#c4454d;"></div>
<div style="left:20.80px;top:330.10px;width:1.00px;height:17.50px;background:#a93840;"></div>
<svg style="left:6.7px;top:336.30px" width="8" height="5" viewBox="0 0 8 5"><path d="M0.8 0.8 L3.9 3.6 L7 0.8" fill="none" stroke="#f1c4c8" stroke-width="0.9"/></svg>
<span class="t" style="top:333.54px;font-size:8.4px;font-weight:normal;color:#f8dfe1;-webkit-text-stroke:0.15px #f8dfe1;left:24.60px;transform-origin:0 50%;transform:scaleX(1.115);">Tỷ Số Chính Xác Hiệp 1</span>
<div style="left:0.80px;top:347.60px;width:797.80px;height:14.20px;background:#f1f1f1;"></div>
<div style="left:0.00px;top:361.80px;width:799.00px;height:26.40px;background:#fff;"></div>
<div style="left:0.00px;top:388.20px;width:799.00px;height:1.00px;background:#ececec;"></div>
<span class="t" style="top:350.69px;font-size:8.4px;font-weight:normal;color:#5a5a5a;-webkit-text-stroke:0.15px #5a5a5a;left:37.00px;transform-origin:0 50%;transform:scaleX(1.19) translateX(-50%);">1-0</span>
<span class="t" style="top:365.69px;font-size:8.4px;font-weight:bold;color:#14228f;right:750.40px;transform-origin:100% 50%;transform:scaleX(1.185);">2.89</span>
<span class="t" style="top:377.69px;font-size:8.4px;font-weight:bold;color:#14228f;right:750.40px;transform-origin:100% 50%;transform:scaleX(1.185);">6.8</span>
<div style="left:73.20px;top:347.60px;width:1.00px;height:14.20px;background:#dcdcdc;"></div>
<div style="left:73.20px;top:361.80px;width:1.00px;height:26.40px;background:#eaeaea;"></div>
<span class="t" style="top:350.69px;font-size:8.4px;font-weight:normal;color:#5a5a5a;-webkit-text-stroke:0.15px #5a5a5a;left:110.20px;transform-origin:0 50%;transform:scaleX(1.19) translateX(-50%);">2-0</span>
<span class="t" style="top:365.69px;font-size:8.4px;font-weight:bold;color:#14228f;right:677.20px;transform-origin:100% 50%;transform:scaleX(1.185);">9</span>
<span class="t" style="top:377.69px;font-size:8.4px;font-weight:bold;color:#14228f;right:677.20px;transform-origin:100% 50%;transform:scaleX(1.185);">50</span>
<div style="left:146.40px;top:347.60px;width:1.00px;height:14.20px;background:#dcdcdc;"></div>
<div style="left:146.40px;top:361.80px;width:1.00px;height:26.40px;background:#eaeaea;"></div>
<span class="t" style="top:350.69px;font-size:8.4px;font-weight:normal;color:#5a5a5a;-webkit-text-stroke:0.15px #5a5a5a;left:183.40px;transform-origin:0 50%;transform:scaleX(1.19) translateX(-50%);">2-1</span>
<span class="t" style="top:365.69px;font-size:8.4px;font-weight:bold;color:#14228f;right:604.00px;transform-origin:100% 50%;transform:scaleX(1.185);">32</span>
<span class="t" style="top:377.69px;font-size:8.4px;font-weight:bold;color:#14228f;right:604.00px;transform-origin:100% 50%;transform:scaleX(1.185);">74</span>
<div style="left:219.60px;top:347.60px;width:1.00px;height:14.20px;background:#dcdcdc;"></div>
<div style="left:219.60px;top:361.80px;width:1.00px;height:26.40px;background:#eaeaea;"></div>
<span class="t" style="top:350.69px;font-size:8.4px;font-weight:normal;color:#5a5a5a;-webkit-text-stroke:0.15px #5a5a5a;left:256.60px;transform-origin:0 50%;transform:scaleX(1.19) translateX(-50%);">3-0</span>
<span class="t" style="top:365.69px;font-size:8.4px;font-weight:bold;color:#14228f;right:530.80px;transform-origin:100% 50%;transform:scaleX(1.185);">40</span>
<span class="t" style="top:377.69px;font-size:8.4px;font-weight:bold;color:#14228f;right:530.80px;transform-origin:100% 50%;transform:scaleX(1.185);">230</span>
<div style="left:292.80px;top:347.60px;width:1.00px;height:14.20px;background:#dcdcdc;"></div>
<div style="left:292.80px;top:361.80px;width:1.00px;height:26.40px;background:#eaeaea;"></div>
<span class="t" style="top:350.69px;font-size:8.4px;font-weight:normal;color:#5a5a5a;-webkit-text-stroke:0.15px #5a5a5a;left:329.80px;transform-origin:0 50%;transform:scaleX(1.19) translateX(-50%);">3-1</span>
<span class="t" style="top:365.69px;font-size:8.4px;font-weight:bold;color:#14228f;right:457.60px;transform-origin:100% 50%;transform:scaleX(1.185);">142</span>
<span class="t" style="top:377.69px;font-size:8.4px;font-weight:bold;color:#14228f;right:457.60px;transform-origin:100% 50%;transform:scaleX(1.185);">230</span>
<div style="left:366.00px;top:347.60px;width:1.00px;height:14.20px;background:#dcdcdc;"></div>
<div style="left:366.00px;top:361.80px;width:1.00px;height:26.40px;background:#eaeaea;"></div>
<span class="t" style="top:350.69px;font-size:8.4px;font-weight:normal;color:#5a5a5a;-webkit-text-stroke:0.15px #5a5a5a;left:403.00px;transform-origin:0 50%;transform:scaleX(1.19) translateX(-50%);">3-2</span>
<span class="t" style="top:365.69px;font-size:8.4px;font-weight:bold;color:#14228f;right:384.40px;transform-origin:100% 50%;transform:scaleX(1.185);">230</span>
<span class="t" style="top:377.69px;font-size:8.4px;font-weight:bold;color:#14228f;right:384.40px;transform-origin:100% 50%;transform:scaleX(1.185);">230</span>
<div style="left:439.20px;top:347.60px;width:1.00px;height:14.20px;background:#dcdcdc;"></div>
<div style="left:439.20px;top:361.80px;width:1.00px;height:26.40px;background:#eaeaea;"></div>
<span class="t" style="top:350.69px;font-size:8.4px;font-weight:normal;color:#5a5a5a;-webkit-text-stroke:0.15px #5a5a5a;left:476.20px;transform-origin:0 50%;transform:scaleX(1.19) translateX(-50%);">0-0</span>
<span class="t" style="top:371.69px;font-size:8.4px;font-weight:bold;color:#14228f;right:311.20px;transform-origin:100% 50%;transform:scaleX(1.185);">2.33</span>
<div style="left:512.40px;top:347.60px;width:1.00px;height:14.20px;background:#dcdcdc;"></div>
<div style="left:512.40px;top:361.80px;width:1.00px;height:26.40px;background:#eaeaea;"></div>
<span class="t" style="top:350.69px;font-size:8.4px;font-weight:normal;color:#5a5a5a;-webkit-text-stroke:0.15px #5a5a5a;left:549.40px;transform-origin:0 50%;transform:scaleX(1.19) translateX(-50%);">1-1</span>
<span class="t" style="top:371.69px;font-size:8.4px;font-weight:bold;color:#14228f;right:238.00px;transform-origin:100% 50%;transform:scaleX(1.185);">11</span>
<div style="left:585.60px;top:347.60px;width:1.00px;height:14.20px;background:#dcdcdc;"></div>
<div style="left:585.60px;top:361.80px;width:1.00px;height:26.40px;background:#eaeaea;"></div>
<span class="t" style="top:350.69px;font-size:8.4px;font-weight:normal;color:#5a5a5a;-webkit-text-stroke:0.15px #5a5a5a;left:622.60px;transform-origin:0 50%;transform:scaleX(1.19) translateX(-50%);">2-2</span>
<span class="t" style="top:371.69px;font-size:8.4px;font-weight:bold;color:#14228f;right:164.80px;transform-origin:100% 50%;transform:scaleX(1.185);">200</span>
<div style="left:658.80px;top:347.60px;width:1.00px;height:14.20px;background:#dcdcdc;"></div>
<div style="left:658.80px;top:361.80px;width:1.00px;height:26.40px;background:#eaeaea;"></div>
<span class="t" style="top:350.69px;font-size:8.4px;font-weight:normal;color:#5a5a5a;-webkit-text-stroke:0.15px #5a5a5a;left:695.80px;transform-origin:0 50%;transform:scaleX(1.19) translateX(-50%);">3-3</span>
<span class="t" style="top:371.69px;font-size:8.4px;font-weight:bold;color:#14228f;right:91.60px;transform-origin:100% 50%;transform:scaleX(1.185);">300</span>
<div style="left:732.00px;top:347.60px;width:1.00px;height:14.20px;background:#dcdcdc;"></div>
<div style="left:732.00px;top:361.80px;width:1.00px;height:26.40px;background:#eaeaea;"></div>
<span class="t" style="top:350.69px;font-size:8.4px;font-weight:normal;color:#5a5a5a;-webkit-text-stroke:0.15px #5a5a5a;left:769.00px;transform-origin:0 50%;transform:scaleX(1.19) translateX(-50%);">AOS</span>
<span class="t" style="top:371.69px;font-size:8.4px;font-weight:bold;color:#14228f;right:18.40px;transform-origin:100% 50%;transform:scaleX(1.185);">151</span>
<div style="left:0.80px;top:389.20px;width:797.80px;height:17.40px;background:#c4454d;"></div>
<div style="left:20.80px;top:389.20px;width:1.00px;height:17.40px;background:#a93840;"></div>
<svg style="left:6.7px;top:395.40px" width="8" height="5" viewBox="0 0 8 5"><path d="M0.8 0.8 L3.9 3.6 L7 0.8" fill="none" stroke="#f1c4c8" stroke-width="0.9"/></svg>
<span class="t" style="top:392.64px;font-size:8.4px;font-weight:normal;color:#f8dfe1;-webkit-text-stroke:0.15px #f8dfe1;left:24.60px;transform-origin:0 50%;transform:scaleX(1.115);">Tỷ Số Chính Xác Hiệp 2</span>
<div style="left:0.80px;top:406.60px;width:797.80px;height:14.10px;background:#f1f1f1;"></div>
<div style="left:0.00px;top:420.70px;width:799.00px;height:26.40px;background:#fff;"></div>
<div style="left:0.00px;top:447.10px;width:799.00px;height:1.00px;background:#ececec;"></div>
<span class="t" style="top:409.69px;font-size:8.4px;font-weight:normal;color:#5a5a5a;-webkit-text-stroke:0.15px #5a5a5a;left:37.00px;transform-origin:0 50%;transform:scaleX(1.19) translateX(-50%);">1-0</span>
<span class="t" style="top:424.59px;font-size:8.4px;font-weight:bold;color:#14228f;right:750.40px;transform-origin:100% 50%;transform:scaleX(1.185);">3.15</span>
<span class="t" style="top:436.59px;font-size:8.4px;font-weight:bold;color:#14228f;right:750.40px;transform-origin:100% 50%;transform:scaleX(1.185);">7.3</span>
<div style="left:73.20px;top:406.60px;width:1.00px;height:14.10px;background:#dcdcdc;"></div>
<div style="left:73.20px;top:420.70px;width:1.00px;height:26.40px;background:#eaeaea;"></div>
<span class="t" style="top:409.69px;font-size:8.4px;font-weight:normal;color:#5a5a5a;-webkit-text-stroke:0.15px #5a5a5a;left:110.20px;transform-origin:0 50%;transform:scaleX(1.19) translateX(-50%);">2-0</span>
<span class="t" style="top:424.59px;font-size:8.4px;font-weight:bold;color:#14228f;right:677.20px;transform-origin:100% 50%;transform:scaleX(1.185);">6.9</span>
<span class="t" style="top:436.59px;font-size:8.4px;font-weight:bold;color:#14228f;right:677.20px;transform-origin:100% 50%;transform:scaleX(1.185);">35</span>
<div style="left:146.40px;top:406.60px;width:1.00px;height:14.10px;background:#dcdcdc;"></div>
<div style="left:146.40px;top:420.70px;width:1.00px;height:26.40px;background:#eaeaea;"></div>
<span class="t" style="top:409.69px;font-size:8.4px;font-weight:normal;color:#5a5a5a;-webkit-text-stroke:0.15px #5a5a5a;left:183.40px;transform-origin:0 50%;transform:scaleX(1.19) translateX(-50%);">2-1</span>
<span class="t" style="top:424.59px;font-size:8.4px;font-weight:bold;color:#14228f;right:604.00px;transform-origin:100% 50%;transform:scaleX(1.185);">16</span>
<span class="t" style="top:436.59px;font-size:8.4px;font-weight:bold;color:#14228f;right:604.00px;transform-origin:100% 50%;transform:scaleX(1.185);">38</span>
<div style="left:219.60px;top:406.60px;width:1.00px;height:14.10px;background:#dcdcdc;"></div>
<div style="left:219.60px;top:420.70px;width:1.00px;height:26.40px;background:#eaeaea;"></div>
<span class="t" style="top:409.69px;font-size:8.4px;font-weight:normal;color:#5a5a5a;-webkit-text-stroke:0.15px #5a5a5a;left:256.60px;transform-origin:0 50%;transform:scaleX(1.19) translateX(-50%);">3-0</span>
<span class="t" style="top:424.59px;font-size:8.4px;font-weight:bold;color:#14228f;right:530.80px;transform-origin:100% 50%;transform:scaleX(1.185);">22</span>
<span class="t" style="top:436.59px;font-size:8.4px;font-weight:bold;color:#14228f;right:530.80px;transform-origin:100% 50%;transform:scaleX(1.185);">230</span>
<div style="left:292.80px;top:406.60px;width:1.00px;height:14.10px;background:#dcdcdc;"></div>
<div style="left:292.80px;top:420.70px;width:1.00px;height:26.40px;background:#eaeaea;"></div>
<span class="t" style="top:409.69px;font-size:8.4px;font-weight:normal;color:#5a5a5a;-webkit-text-stroke:0.15px #5a5a5a;left:329.80px;transform-origin:0 50%;transform:scaleX(1.19) translateX(-50%);">3-1</span>
<span class="t" style="top:424.59px;font-size:8.4px;font-weight:bold;color:#14228f;right:457.60px;transform-origin:100% 50%;transform:scaleX(1.185);">52</span>
<span class="t" style="top:436.59px;font-size:8.4px;font-weight:bold;color:#14228f;right:457.60px;transform-origin:100% 50%;transform:scaleX(1.185);">230</span>
<div style="left:366.00px;top:406.60px;width:1.00px;height:14.10px;background:#dcdcdc;"></div>
<div style="left:366.00px;top:420.70px;width:1.00px;height:26.40px;background:#eaeaea;"></div>
<span class="t" style="top:409.69px;font-size:8.4px;font-weight:normal;color:#5a5a5a;-webkit-text-stroke:0.15px #5a5a5a;left:403.00px;transform-origin:0 50%;transform:scaleX(1.19) translateX(-50%);">3-2</span>
<span class="t" style="top:424.59px;font-size:8.4px;font-weight:bold;color:#14228f;right:384.40px;transform-origin:100% 50%;transform:scaleX(1.185);">230</span>
<span class="t" style="top:436.59px;font-size:8.4px;font-weight:bold;color:#14228f;right:384.40px;transform-origin:100% 50%;transform:scaleX(1.185);">230</span>
<div style="left:439.20px;top:406.60px;width:1.00px;height:14.10px;background:#dcdcdc;"></div>
<div style="left:439.20px;top:420.70px;width:1.00px;height:26.40px;background:#eaeaea;"></div>
<span class="t" style="top:409.69px;font-size:8.4px;font-weight:normal;color:#5a5a5a;-webkit-text-stroke:0.15px #5a5a5a;left:476.20px;transform-origin:0 50%;transform:scaleX(1.19) translateX(-50%);">0-0</span>
<span class="t" style="top:430.59px;font-size:8.4px;font-weight:bold;color:#14228f;right:311.20px;transform-origin:100% 50%;transform:scaleX(1.185);">2.96</span>
<div style="left:512.40px;top:406.60px;width:1.00px;height:14.10px;background:#dcdcdc;"></div>
<div style="left:512.40px;top:420.70px;width:1.00px;height:26.40px;background:#eaeaea;"></div>
<span class="t" style="top:409.69px;font-size:8.4px;font-weight:normal;color:#5a5a5a;-webkit-text-stroke:0.15px #5a5a5a;left:549.40px;transform-origin:0 50%;transform:scaleX(1.19) translateX(-50%);">1-1</span>
<span class="t" style="top:430.59px;font-size:8.4px;font-weight:bold;color:#14228f;right:238.00px;transform-origin:100% 50%;transform:scaleX(1.185);">7.7</span>
<div style="left:585.60px;top:406.60px;width:1.00px;height:14.10px;background:#dcdcdc;"></div>
<div style="left:585.60px;top:420.70px;width:1.00px;height:26.40px;background:#eaeaea;"></div>
<span class="t" style="top:409.69px;font-size:8.4px;font-weight:normal;color:#5a5a5a;-webkit-text-stroke:0.15px #5a5a5a;left:622.60px;transform-origin:0 50%;transform:scaleX(1.19) translateX(-50%);">2-2</span>
<span class="t" style="top:430.59px;font-size:8.4px;font-weight:bold;color:#14228f;right:164.80px;transform-origin:100% 50%;transform:scaleX(1.185);">69</span>
<div style="left:658.80px;top:406.60px;width:1.00px;height:14.10px;background:#dcdcdc;"></div>
<div style="left:658.80px;top:420.70px;width:1.00px;height:26.40px;background:#eaeaea;"></div>
<span class="t" style="top:409.69px;font-size:8.4px;font-weight:normal;color:#5a5a5a;-webkit-text-stroke:0.15px #5a5a5a;left:695.80px;transform-origin:0 50%;transform:scaleX(1.19) translateX(-50%);">3-3</span>
<span class="t" style="top:430.59px;font-size:8.4px;font-weight:bold;color:#14228f;right:91.60px;transform-origin:100% 50%;transform:scaleX(1.185);">230</span>
<div style="left:732.00px;top:406.60px;width:1.00px;height:14.10px;background:#dcdcdc;"></div>
<div style="left:732.00px;top:420.70px;width:1.00px;height:26.40px;background:#eaeaea;"></div>
<span class="t" style="top:409.69px;font-size:8.4px;font-weight:normal;color:#5a5a5a;-webkit-text-stroke:0.15px #5a5a5a;left:769.00px;transform-origin:0 50%;transform:scaleX(1.19) translateX(-50%);">AOS</span>
<span class="t" style="top:430.59px;font-size:8.4px;font-weight:bold;color:#14228f;right:18.40px;transform-origin:100% 50%;transform:scaleX(1.185);">48</span>
<div style="left:0.80px;top:448.10px;width:797.80px;height:3.00px;background:#c4454d;"></div>
</div></body></html>
